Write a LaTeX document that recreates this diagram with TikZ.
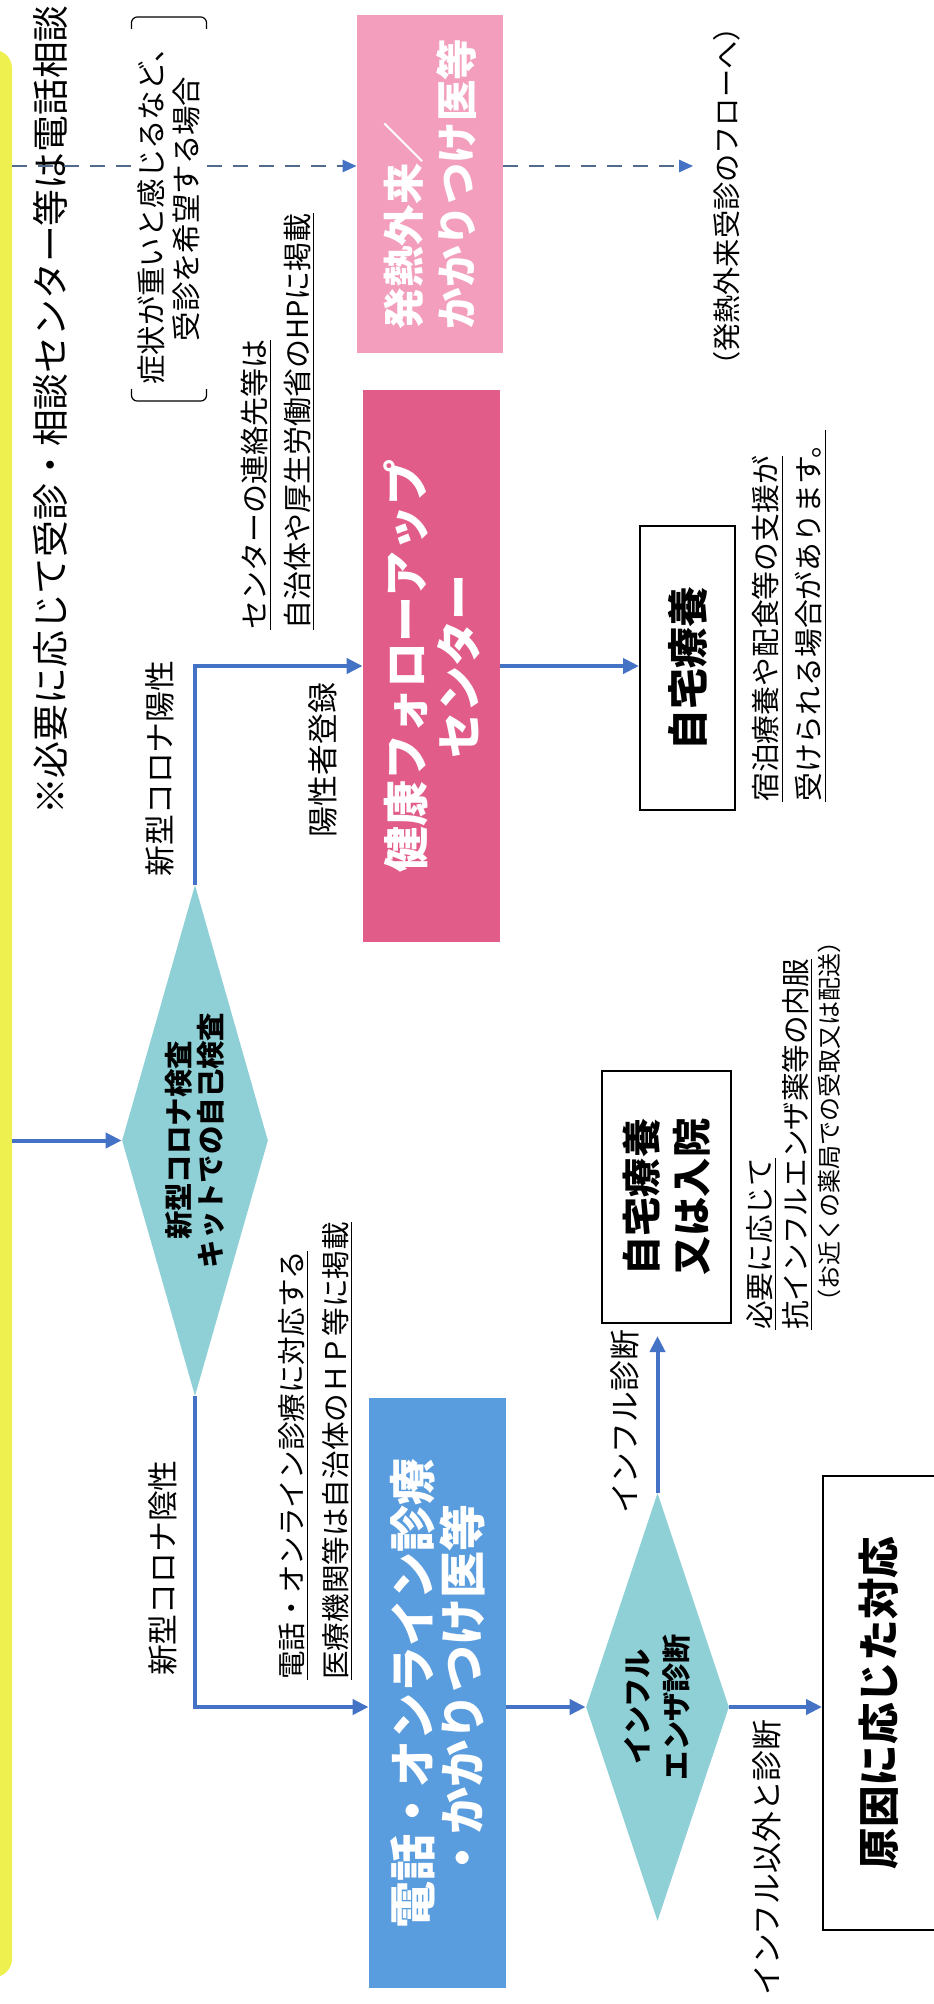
\documentclass[tikz,border=0pt]{standalone}
\usepackage{fontspec}
\setmainfont{Noto Sans CJK JP}
\usepackage{xcolor}
\usepackage{tikz}
\usetikzlibrary{positioning, arrows.meta, calc, shapes.geometric}

\definecolor{bandyellow}{RGB}{238,240,80}
\definecolor{feverpink}{RGB}{242,158,188}
\definecolor{followpink}{RGB}{226,92,138}
\definecolor{onlineblue}{RGB}{90,157,222}
\definecolor{diacyan}{RGB}{142,208,214}
\definecolor{arrowblue}{RGB}{68,114,196}
\definecolor{dashgray}{RGB}{82,106,140}

\newcommand{\fs}[2]{\fontsize{#1}{#2}\selectfont}

\begin{document}
\begin{tikzpicture}[
  x=0.5pt, y=-0.5pt,
  vtext/.style={rotate=90, inner sep=0pt},
  lbl/.style={vtext, font=\fs{15.4pt}{18pt}},
  note/.style={vtext, align=left, font=\fs{14.5pt}{21.5pt}},
  colbox/.style={vtext, align=center, text=white},
  linebox/.style={vtext, draw, line width=1pt},
  flowarr/.style={draw=arrowblue, line width=2pt, -{Triangle[length=8pt,width=7.5pt]}},
  dashline/.style={draw=dashgray, line width=1.3pt, dash pattern=on 7.5pt off 5.5pt},
  dashtip/.style={-{Triangle[length=7pt,width=6pt,color=arrowblue]}},
  bracketline/.style={draw, line width=0.6pt, rounded corners=3pt},
]
\useasboundingbox (0,0) rectangle (933,2004);
\fill[white] (0,0) rectangle (933,2004);
\fill[bandyellow, rounded corners=9pt] (-30,50) rectangle (12,1977);

% header and the dashed route
\node[vtext, font=\fs{18.4pt}{22pt}] (title) at (50,410) {※必要に応じて受診・相談センター等は電話相談};
\node[vtext, inner xsep=8pt, inner ysep=3pt, align=center, font=\fs{14.7pt}{17.5pt}]
  (cond) at (169,209) {症状が重いと感じるなど、\\受診を希望する場合};
\draw[bracketline] ([yshift=-6pt]cond.north east) -- (cond.north east) -- (cond.south east) -- ([yshift=-6pt]cond.south east);
\draw[bracketline] ([yshift=6pt]cond.north west) -- (cond.north west) -- (cond.south west) -- ([yshift=6pt]cond.south west);
\node[colbox, fill=feverpink, minimum width=169pt, minimum height=73pt, align=left,
      font=\fs{20.7pt}{26.5pt}\bfseries] (fever) at (430,184) {発熱外来／\\かかりつけ医等};
\node[vtext, font=\fs{14.1pt}{17pt}] (flow) at (727,196.5) {（発熱外来受診のフローへ）};

\coordinate (dtop) at (12,166);
\draw[dashline] (dtop) -- (dtop -| cond.north);
\draw[dashline, dashtip] (dtop -| cond.south) -- (dtop -| fever.north);
\draw[dashline, dashtip, shorten >=10pt] (dtop -| fever.south) -- (dtop -| flow.north);

% positive branch
\node[note, anchor=west] (contact) at (277.5,630)
  {\underline{センターの連絡先等は}\\\underline{自治体や厚生労働省のHPに掲載}};
\node[colbox, fill=followpink, minimum width=276pt, minimum height=68.5pt,
      font=\fs{23pt}{26.5pt}\bfseries] (follow) at (431.5,666) {健康フォローアップ\\センター};
\node[vtext, diamond, aspect=3.5, fill=diacyan, minimum width=255.5pt, minimum height=73pt,
      align=center, font=\fs{14.2pt}{16.25pt}\bfseries] (selftest) at (195,1140.5) {新型コロナ検査\\キットでの自己検査};
\coordinate (kin) at (12,1140.5);
\draw[flowarr] (kin) -- (selftest.north);
\draw[flowarr] (selftest.east) |- (follow.north);
\node[lbl] (poslbl) at (160,768.5) {新型コロナ陽性};
\node[lbl] (reglbl) at (323,760) {陽性者登録};

\node[linebox, minimum width=142pt, minimum height=47.5pt, font=\fs{20.5pt}{24pt}\bfseries]
  (home) at (687.5,668) {自宅療養};
\draw[flowarr] (follow.south) -- (follow.south -| home.north);
\node[note, font=\fs{14.4pt}{21.5pt}, anchor=west] (support) at (789.5,802)
  {\underline{宿泊療養や配食等の支援が}\\\underline{受けられる場合があります。}};

% negative branch
\node[colbox, fill=onlineblue, minimum width=295pt, minimum height=68.5pt,
      font=\fs{23.5pt}{25pt}\bfseries] (online) at (437.5,1693) {電話・オンライン診療\\・かかりつけ医等};
\node[vtext, diamond, aspect=3, fill=diacyan, minimum width=214pt, minimum height=71.5pt,
      align=center, font=\fs{14.6pt}{19.5pt}\bfseries] (flutest) at (657.5,1707) {インフル\\エンザ診断};
\draw[flowarr] (selftest.west) |- (flutest.north -| online.north);
\draw[flowarr] (flutest.north -| online.south) -- (flutest.north);
\node[lbl] (neglbl) at (162.5,1568) {新型コロナ陰性};
\node[note, font=\fs{14.3pt}{22pt}, anchor=west] (clinics) at (315.5,1680)
  {\underline{電話・オンライン診療に対応する}\\\underline{医療機関等は自治体のＨＰ等に掲載}};

\node[linebox, minimum width=126pt, minimum height=64.5pt, align=left,
      font=\fs{19.6pt}{25pt}\bfseries] (homehosp) at (666.5,1197) {自宅療養\\又は入院};
\draw[flowarr, shorten >=6pt] (flutest.east) -- (flutest.east |- homehosp.west);
\node[lbl] (flulbl) at (625,1422) {インフル診断};
\node[note, font=\fs{14.3pt}{18pt}, anchor=west] (medicine) at (793.5,1330)
  {\underline{必要に応じて}\\\underline{抗インフルエンザ薬等の内服}\\[-1.7pt]{\fs{12pt}{15pt}\hspace*{8pt}（お近くの薬局での受取又は配送）}};

\node[linebox, minimum width=227pt, minimum height=56pt, font=\fs{20.8pt}{24pt}\bfseries]
  (cause) at (879,1703) {原因に応じた対応};
\draw[flowarr] (flutest.south) -- (flutest.south -| cause.north);
\node[lbl, anchor=east] (otherlbl) at (766.5,1719) {インフル以外と診断};
\end{tikzpicture}
\end{document}
